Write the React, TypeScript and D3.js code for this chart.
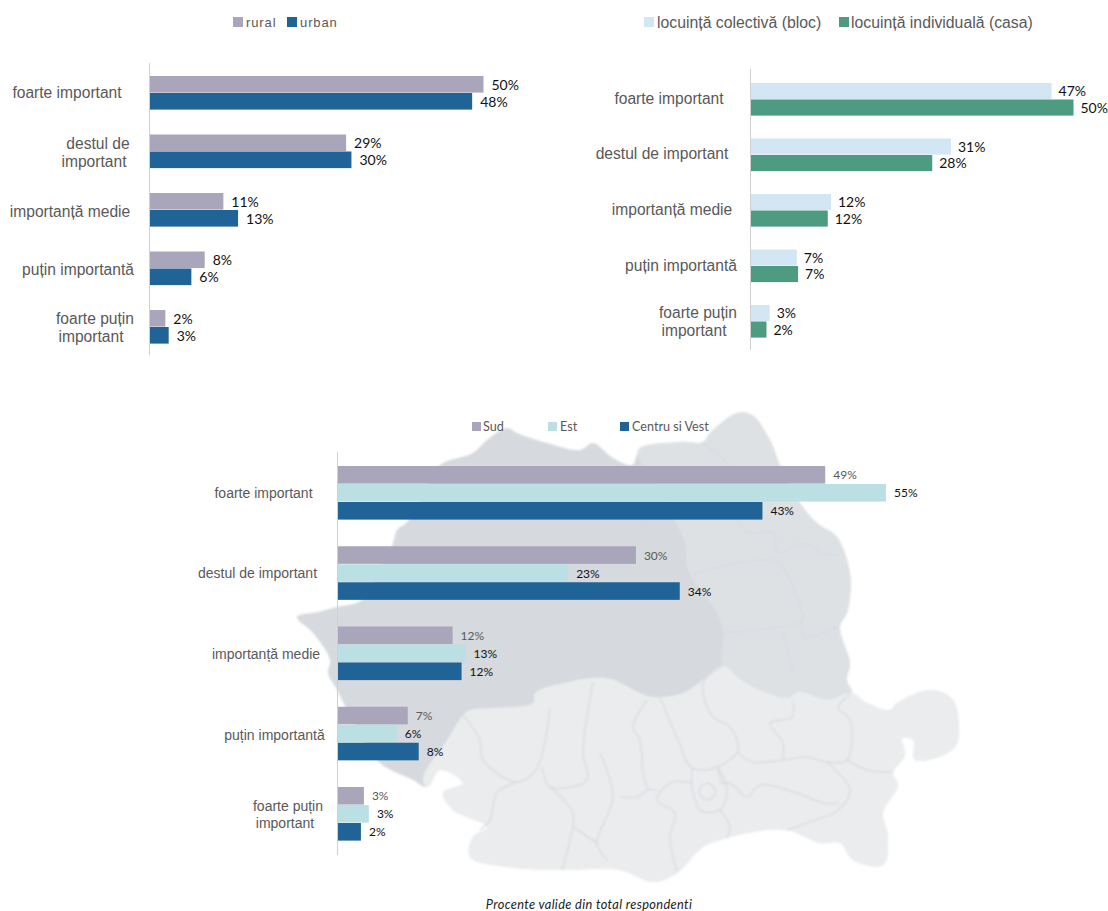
import React from "react";
import * as d3 from "d3";

// ---- data ----
const ruralValues = [50, 29.4, 11, 8.2, 2.3];
const urbanValues = [48.3, 30.2, 13.2, 6.2, 2.8];
const blocValues = [46.6, 31, 12.4, 7.1, 2.9];
const casaValues = [50, 28.1, 11.9, 7.3, 2.4];
const sudValues = [48.9, 29.9, 11.5, 7, 2.6];
const estValues = [55, 23.1, 12.8, 5.9, 3.1];
const centruValues = [42.6, 34.3, 12.4, 8.1, 2.3];

// ---- category label layout ----
const labels1 = [["foarte important"], ["destul de", "important"], ["importanță medie"], ["puțin importantă"], ["foarte puțin", "important"]];
const labels2 = [["foarte important"], ["destul de important"], ["importanță medie"], ["puțin importantă"], ["foarte puțin", "important"]];
const labels3 = labels2;
const centers1 = [67, 98, 70, 78, 95];
const centers2 = [669, 662, 672, 681, 698];
const centers3 = [263.5, 257.5, 266, 274.5, 288];
const labelDy1 = [-1, 0.5, 1, 1, 0];
const labelDy2 = [-1.5, -1.5, -1.5, -1, 0];
const labelDy3 = [0, 0, 0, 1, 0];

// ---- decorative map of the background, page coordinates ----
const mapOutline: [number, number][] = [[297,617],[318,612],[337,607],[362,600],[380,570],[393,543],[397,530],[407,522],[425,490],[440,465],[473,453],[487,440],[507,428],[517,433],[547,443],[580,450],[593,443],[613,458],[632,465],[640,450],[680,442],[703,442],[710,433],[737,413],[752,415],[770,440],[780,465],[800,503],[817,523],[837,537],[850,573],[850,597],[847,613],[840,627],[850,663],[847,680],[852,693],[867,703],[890,710],[897,703],[930,690],[950,697],[957,710],[955,747],[915,760],[913,740],[902,738],[905,755],[893,773],[898,785],[883,813],[888,837],[883,865],[853,860],[840,843],[820,843],[787,830],[753,832],[727,838],[703,847],[677,873],[653,882],[620,870],[562,870],[507,867],[470,857],[473,837],[487,827],[453,810],[443,793],[463,783],[440,770],[427,787],[413,780],[380,763],[358,730],[337,690],[328,673],[330,660],[313,633]];
const mapMid: [number, number][] = [[638,450],[660,490],[675,520],[685,543],[688,570],[717,613],[723,633],[723,665],[737,677],[753,687],[787,698],[800,692],[827,700],[852,693],[847,680],[850,663],[840,627],[847,613],[850,597],[850,573],[837,537],[817,523],[800,503],[780,465],[770,440],[752,415],[737,413],[710,433],[703,442],[680,442]];
const mapSouth: [number, number][] = [[423,778],[447,740],[463,715],[470,710],[493,708],[533,703],[535,693],[563,683],[607,678],[640,693],[653,697],[683,693],[700,682],[723,665],[737,677],[753,687],[787,698],[800,692],[827,700],[852,693],[867,703],[890,710],[897,703],[930,690],[950,697],[957,710],[955,747],[915,760],[913,740],[902,738],[905,755],[893,773],[898,785],[883,813],[888,837],[883,865],[853,860],[840,843],[820,843],[787,830],[753,832],[727,838],[703,847],[677,873],[653,882],[620,870],[562,870],[507,867],[470,857],[473,837],[487,827],[453,810],[443,793],[463,783],[440,770],[427,787]];
const mapBorders: [number, number][][] = [
  [[727,663],[703,683],[713,717],[730,727],[738,750],[717,767],[692,768],[678,740],[660,697]],
  [[793,700],[792,717],[770,723],[783,743],[783,760]],
  [[738,753],[753,762],[783,760],[807,757],[827,762],[847,760],[850,720],[838,707],[850,695]],
  [[827,762],[850,790],[838,810],[807,823],[787,830]],
  [[847,760],[867,770],[893,772]],
  [[718,767],[722,783],[730,783],[747,797],[760,785],[797,793],[823,803],[840,803]],
  [[692,768],[692,787],[700,810],[720,810],[727,790],[718,768]],
  [[700,787],[708,783],[716,792],[708,800],[700,795],[700,787]],
  [[720,810],[730,827],[727,838]],
  [[692,783],[670,783],[657,800],[675,813],[670,837],[677,872]],
  [[657,790],[647,790],[637,797],[620,797]],
  [[647,700],[633,727],[640,740],[643,773],[648,790]],
  [[463,715],[480,740],[483,760],[517,782],[537,768],[550,707]],
  [[542,767],[550,787],[587,780],[583,753],[593,682]],
  [[517,782],[497,793],[490,820],[480,830]],
  [[550,787],[573,813],[570,840],[562,870]],
  [[600,753],[613,797],[597,843],[607,860]],
  [[573,827],[597,843]],
  [[703,443],[727,463],[735,480]],
  [[737,520],[750,533],[773,533],[778,553],[803,543],[823,553],[840,555]],
  [[693,575],[737,563],[778,563],[800,607],[802,620],[723,633]],
  [[802,620],[805,637],[837,627]],
  [[783,633],[793,673]],
  [[630,520],[650,527],[650,563],[620,603],[660,617],[707,613]],
  [[660,617],[670,650],[657,680]],
  [[610,650],[607,680]],
  [[490,600],[505,650],[480,700]],
  [[560,540],[580,600],[545,650],[560,685]],
  [[640,470],[628,500],[600,520]],
];

const BLUE = "#1F6397";
const LILAC = "#A9A5BA";
const GREY = "#595959";

type Series = { name: string; values: number[]; color: string; labelColor: string };
type ChartProps = {
  x0: number; xMax: number; maxValue: number; top: number; bottom: number; groupH: number;
  axisTop: number; axisBottom: number; series: Series[]; labels: string[][]; centers: number[]; labelDy: number[];
  catFont: number; valFont: number; valGap: number; lineH: number; secondLineDx: number;
};

function BarChart(p: ChartProps) {
  const x = d3.scaleLinear().domain([0, p.maxValue]).range([p.x0, p.xMax]);
  const step = (p.bottom - p.top - p.groupH) / 4;
  const y = d3.scaleBand<number>().domain(d3.range(5)).range([p.top, p.bottom]).paddingInner((step - p.groupH) / step).paddingOuter(0);
  const sub = d3.scaleBand<number>().domain(d3.range(p.series.length)).range([0, y.bandwidth()]);
  return (
    <g>
      {p.series.map((s, si) =>
        s.values.map((v, i) => (
          <g key={s.name + i}>
            <rect x={x(0)} y={y(i)! + sub(si)!} width={x(v) - x(0)} height={sub.bandwidth() - 0.4} fill={s.color} />
            <text x={x(v) + p.valGap} y={y(i)! + sub(si)! + sub.bandwidth() / 2} dy="0.36em" fontFamily="Lato" fontSize={p.valFont} fill={s.labelColor}>
              {Math.round(v)}%
            </text>
          </g>
        ))
      )}
      <line x1={p.x0 - 0.5} x2={p.x0 - 0.5} y1={p.axisTop} y2={p.axisBottom} stroke="#D0D0D0" />
      {p.labels.map((lines, i) => {
        const cy = y(i)! + y.bandwidth() / 2 + p.labelDy[i];
        return lines.map((l, li) => (
          <text key={l + i} x={p.centers[i] + (li === 1 ? p.secondLineDx : 0)} y={cy + (li - (lines.length - 1) / 2) * p.lineH} dy="0.36em" textAnchor="middle" fontFamily="Liberation Sans" fontSize={p.catFont} fill={GREY}>
            {l}
          </text>
        ));
      })}
    </g>
  );
}

function RoMap() {
  const closed = d3.line().curve(d3.curveCatmullRomClosed.alpha(0.5));
  const open = d3.line().curve(d3.curveCatmullRom.alpha(0.5));
  return (
    <g filter="url(#soft)">
      <path d={closed(mapOutline)!} fill="#D6D9DD" />
      <path d={closed(mapMid)!} fill="#DEE1E4" />
      <path d={closed(mapSouth)!} fill="#EBECEE" />
      {mapBorders.map((b, i) => (
        <path key={i} d={open(b)!} fill="none" stroke="#D6D9DD" strokeWidth={1.6} strokeOpacity={0.8} />
      ))}
    </g>
  );
}

function Legend({ items, y, size, font, fontSize, spacing }: { items: { name: string; color: string; sx: number; tx: number }[]; y: number; size: number; font: string; fontSize: number; spacing?: number }) {
  return (
    <g>
      {items.map((it) => (
        <g key={it.name}>
          <rect x={it.sx} y={y} width={size} height={size} fill={it.color} />
          <text x={it.tx} y={y + size / 2} dy="0.36em" fontFamily={font} fontSize={fontSize} fill={GREY} letterSpacing={spacing}>
            {it.name}
          </text>
        </g>
      ))}
    </g>
  );
}

export default function App() {
  return (
    <svg width={1108} height={911} style={{ position: "absolute", left: 0, top: 0, display: "block" }}>
      <defs>
        <filter id="soft" x="-5%" y="-5%" width="110%" height="110%">
          <feGaussianBlur stdDeviation="1" />
        </filter>
      </defs>
      <rect width={1108} height={911} fill="#fff" />
      <RoMap />

      <Legend
        y={17} size={10} font="Liberation Sans" fontSize={13} spacing={0.9}
        items={[
          { name: "rural", color: LILAC, sx: 233, tx: 246 },
          { name: "urban", color: BLUE, sx: 287, tx: 300 },
        ]}
      />
      <BarChart
        x0={150} xMax={483.5} maxValue={50} top={76} bottom={344} groupH={34} axisTop={63} axisBottom={355}
        series={[
          { name: "rural", values: ruralValues, color: LILAC, labelColor: "#111" },
          { name: "urban", values: urbanValues, color: BLUE, labelColor: "#111" },
        ]}
        labels={labels1} centers={centers1} labelDy={labelDy1} catFont={15.6} valFont={14} valGap={8} lineH={18} secondLineDx={-4}
      />

      <Legend
        y={17} size={10} font="Liberation Sans" fontSize={15.8}
        items={[
          { name: "locuință colectivă (bloc)", color: "#D2E6F4", sx: 644, tx: 657 },
          { name: "locuință individuală (casa)", color: "#4D9B80", sx: 839, tx: 851 },
        ]}
      />
      <BarChart
        x0={751} xMax={1073.5} maxValue={50} top={83} bottom={338} groupH={33} axisTop={69} axisBottom={350}
        series={[
          { name: "bloc", values: blocValues, color: "#D2E6F4", labelColor: "#111" },
          { name: "casa", values: casaValues, color: "#4D9B80", labelColor: "#111" },
        ]}
        labels={labels2} centers={centers2} labelDy={labelDy2} catFont={15.6} valFont={14} valGap={7} lineH={18} secondLineDx={-4}
      />

      <Legend
        y={422} size={9} font="Lato" fontSize={12.6}
        items={[
          { name: "Sud", color: LILAC, sx: 472, tx: 483 },
          { name: "Est", color: "#BAE0E4", sx: 548, tx: 560 },
          { name: "Centru si Vest", color: BLUE, sx: 620, tx: 632 },
        ]}
      />
      <BarChart
        x0={338} xMax={886} maxValue={55} top={466} bottom={841} groupH={54} axisTop={452} axisBottom={855}
        series={[
          { name: "sud", values: sudValues, color: LILAC, labelColor: GREY },
          { name: "est", values: estValues, color: "#BAE0E4", labelColor: "#111" },
          { name: "centru", values: centruValues, color: BLUE, labelColor: "#111" },
        ]}
        labels={labels3} centers={centers3} labelDy={labelDy3} catFont={14} valFont={12} valGap={8} lineH={17} secondLineDx={-3}
      />

      <text x={589} y={909} textAnchor="middle" fontFamily="Lato" fontStyle="italic" fontSize={12.8} letterSpacing={0.35} fill="#222">
        Procente valide din total respondenti
      </text>
    </svg>
  );
}
